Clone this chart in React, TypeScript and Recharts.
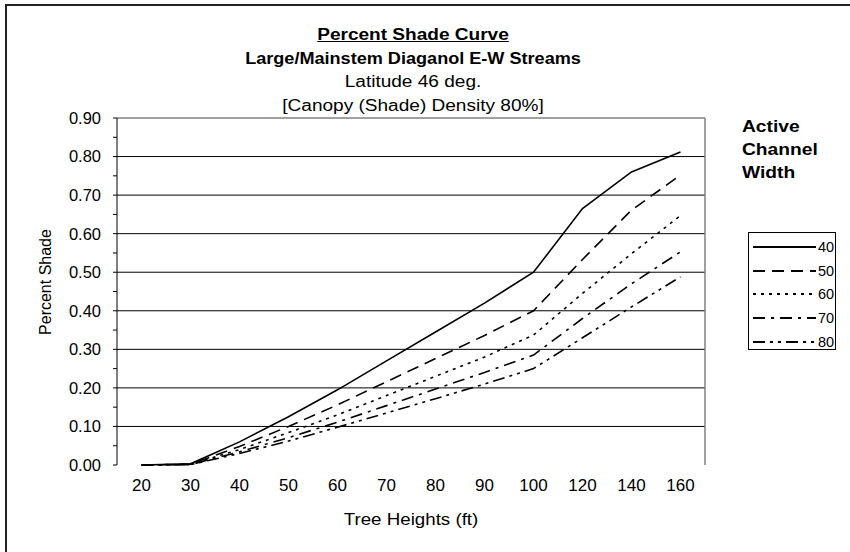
import { Legend, Line, LineChart, ReferenceLine, XAxis, YAxis } from "recharts";

// tree heights (ft) on the category axis
const heights = ["20", "30", "40", "50", "60", "70", "80", "90", "100", "120", "140", "160"];

// percent shade per active channel width
const w40 = [0.0, 0.003, 0.06, 0.125, 0.195, 0.27, 0.345, 0.42, 0.5, 0.665, 0.76, 0.812];
const w50 = [0.0, 0.002, 0.048, 0.1, 0.156, 0.216, 0.276, 0.336, 0.4, 0.533, 0.661, 0.752];
const w60 = [0.0, 0.002, 0.04, 0.084, 0.13, 0.18, 0.23, 0.28, 0.337, 0.445, 0.548, 0.647];
const w70 = [0.0, 0.001, 0.034, 0.071, 0.111, 0.154, 0.197, 0.24, 0.285, 0.38, 0.47, 0.553];
const w80 = [0.0, 0.001, 0.03, 0.062, 0.098, 0.135, 0.172, 0.21, 0.25, 0.33, 0.41, 0.488];

const widths = ["40", "50", "60", "70", "80"];
const yTicks = [0, 0.05, 0.1, 0.15, 0.2, 0.25, 0.3, 0.35, 0.4, 0.45, 0.5, 0.55, 0.6, 0.65, 0.7, 0.75, 0.8, 0.85, 0.9];
const yGrid = [0.1, 0.2, 0.3, 0.4, 0.5, 0.6, 0.7, 0.8];

const dashes: Record<string, string | undefined> = {
  "40": undefined,
  "50": "12 7",
  "60": "3 5",
  "70": "12 6 3 6",
  "80": "12 5 3 5 3 5",
};

const data = heights.map((h, i) => ({
  pos: i + 0.5,
  h,
  "40": w40[i],
  "50": w50[i],
  "60": w60[i],
  "70": w70[i],
  "80": w80[i],
}));

const boundaryTicks = heights.map((_, i) => i).concat([heights.length]);
const centerTicks = heights.map((_, i) => i + 0.5);

const FONT = "'Liberation Sans', Arial, sans-serif";

const fmtY = (v: number) => (Math.round(v * 100) % 10 === 0 ? v.toFixed(2) : "");

function LegendBox() {
  return (
    <div style={{ border: "1px solid #000", background: "#fff", width: 88, height: 118, boxSizing: "border-box", padding: "2px 0 0 0", fontFamily: FONT }}>
      {widths.map(w => (
        <div key={w} style={{ display: "flex", alignItems: "center", height: 23.7 }}>
          <svg width={64} height={10} style={{ display: "block", marginLeft: 4 }}>
            <line x1={0} y1={5} x2={63} y2={5} stroke="#000" strokeWidth={2} strokeDasharray={dashes[w]} />
          </svg>
          <span style={{ fontSize: 14.5, color: "#000", marginLeft: 1 }}>{w}</span>
        </div>
      ))}
    </div>
  );
}

export default function App() {
  return (
    <div style={{ position: "absolute", left: 0, top: 0, width: 850, height: 552, background: "#fff", overflow: "hidden", fontFamily: FONT }}>
      <div style={{ position: "absolute", left: 5, top: 4, width: 900, height: 600, border: "2px solid #222" }} />

      <div style={{ position: "absolute", left: 213, top: 23, width: 400, textAlign: "center", fontSize: 16, lineHeight: "23.5px", color: "#000", transform: "scaleX(1.19)", transformOrigin: "center" }}>
        <div style={{ fontWeight: 700, textDecoration: "underline" }}>Percent Shade Curve</div>
        <div style={{ fontWeight: 700, transform: "scaleX(0.95)" }}>Large/Mainstem Diaganol E-W Streams</div>
        <div>Latitude 46 deg.</div>
        <div>[Canopy (Shade) Density 80%]</div>
      </div>

      <div style={{ position: "absolute", left: 742, top: 115, fontSize: 16, fontWeight: 700, lineHeight: "23px", color: "#000", transform: "scaleX(1.2)", transformOrigin: "left" }}>
        <div>Active</div>
        <div>Channel</div>
        <div>Width</div>
      </div>

      <div style={{ position: "absolute", left: 46, top: 282, transform: "translate(-50%, -50%) rotate(-90deg)", fontSize: 16, whiteSpace: "nowrap", color: "#000" }}>
        Percent Shade
      </div>
      <div style={{ position: "absolute", left: 411, top: 520, transform: "translate(-50%, -50%) scaleX(1.17)", fontSize: 16, whiteSpace: "nowrap", color: "#000" }}>
        Tree Heights (ft)
      </div>

      <LineChart width={850} height={552} data={data} margin={{ top: 118, right: 145, bottom: 57, left: 0 }} style={{ position: "absolute", left: 0, top: 0 }}>
        <XAxis
          dataKey="pos"
          type="number"
          domain={[0, heights.length]}
          ticks={boundaryTicks}
          tickFormatter={() => ""}
          height={0}
          tickSize={5}
          stroke="#000"
          tickLine={{ stroke: "#000" }}
          axisLine={{ stroke: "#000" }}
        />
        <XAxis
          xAxisId="lbl"
          dataKey="pos"
          type="number"
          domain={[0, heights.length]}
          ticks={centerTicks}
          tickFormatter={(v: number) => heights[Math.floor(v)] ?? ""}
          height={30}
          tickSize={0}
          tickMargin={14}
          axisLine={false}
          tickLine={false}
          interval={0}
          tick={{ fill: "#000", fontSize: 17, fontFamily: FONT }}
        />
        <YAxis
          type="number"
          domain={[0, 0.9]}
          ticks={yTicks}
          interval={0}
          tickFormatter={fmtY}
          width={117}
          tickSize={4}
          tickMargin={12}
          axisLine={{ stroke: "#000" }}
          tickLine={{ stroke: "#000" }}
          tick={{ fill: "#000", fontSize: 16.5, fontFamily: FONT }}
        />
        {yGrid.map(v => (
          <ReferenceLine key={v} y={v} stroke="#000" strokeWidth={1} />
        ))}
        <ReferenceLine y={0.9} stroke="#808080" strokeWidth={1.5} />
        <ReferenceLine x={heights.length} stroke="#808080" strokeWidth={1.5} />
        {widths.map(w => (
          <Line
            key={w}
            type="linear"
            dataKey={w}
            name={w}
            stroke="#000"
            strokeWidth={1.6}
            strokeDasharray={dashes[w]}
            dot={false}
            activeDot={false}
            isAnimationActive={false}
          />
        ))}
        <Legend
          layout="vertical"
          align="center"
          verticalAlign="middle"
          content={() => <LegendBox />}
          wrapperStyle={{ position: "absolute", left: 748, top: 232, width: 90, height: 120 }}
        />
      </LineChart>
    </div>
  );
}
